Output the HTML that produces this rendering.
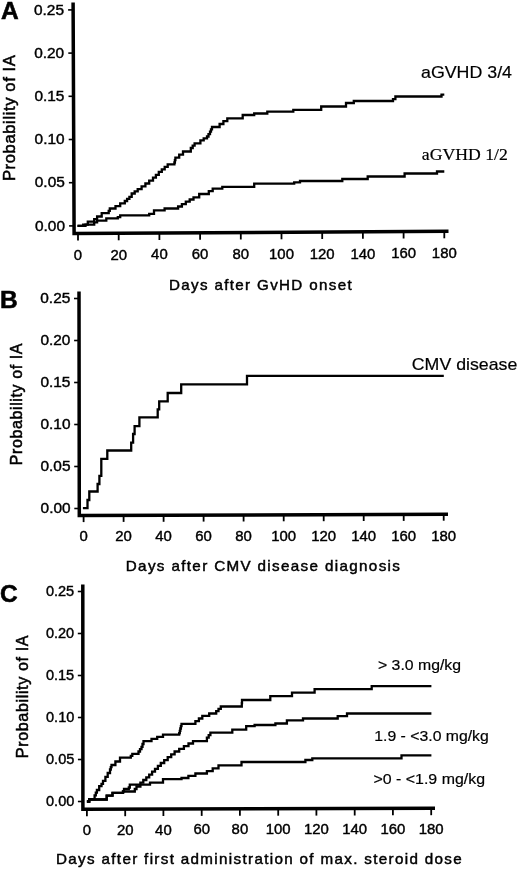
<!DOCTYPE html>
<html><head><meta charset="utf-8"><style>
html,body{margin:0;padding:0;background:#fff;}
body{width:520px;height:870px;overflow:hidden;filter:grayscale(1);font-family:"Liberation Sans", sans-serif;}
svg{display:block;}
</style></head><body>
<svg width="520" height="870" viewBox="0 0 520 870">
<rect width="520" height="870" fill="#fff"/>
<path d="M73.10 2.50 L74.10 233.55 L448.50 231.25" fill="none" stroke="#000" stroke-width="3.50" stroke-linejoin="miter"/>
<line x1="69.1" y1="225.9" x2="74.1" y2="225.9" stroke="#000" stroke-width="1.6"/>
<text x="65.0" y="230.5" font-size="14.0" font-family='"Liberation Sans", sans-serif' font-weight="normal" text-anchor="end" textLength="30.0" lengthAdjust="spacingAndGlyphs" stroke="#000" stroke-width="0.40">0.00</text>
<line x1="68.9" y1="182.7" x2="73.9" y2="182.7" stroke="#000" stroke-width="1.6"/>
<text x="64.8" y="187.3" font-size="14.0" font-family='"Liberation Sans", sans-serif' font-weight="normal" text-anchor="end" textLength="30.0" lengthAdjust="spacingAndGlyphs" stroke="#000" stroke-width="0.40">0.05</text>
<line x1="68.7" y1="139.5" x2="73.7" y2="139.5" stroke="#000" stroke-width="1.6"/>
<text x="64.6" y="144.1" font-size="14.0" font-family='"Liberation Sans", sans-serif' font-weight="normal" text-anchor="end" textLength="30.0" lengthAdjust="spacingAndGlyphs" stroke="#000" stroke-width="0.40">0.10</text>
<line x1="68.5" y1="96.3" x2="73.5" y2="96.3" stroke="#000" stroke-width="1.6"/>
<text x="64.4" y="100.9" font-size="14.0" font-family='"Liberation Sans", sans-serif' font-weight="normal" text-anchor="end" textLength="30.0" lengthAdjust="spacingAndGlyphs" stroke="#000" stroke-width="0.40">0.15</text>
<line x1="68.3" y1="53.1" x2="73.3" y2="53.1" stroke="#000" stroke-width="1.6"/>
<text x="64.2" y="57.7" font-size="14.0" font-family='"Liberation Sans", sans-serif' font-weight="normal" text-anchor="end" textLength="30.0" lengthAdjust="spacingAndGlyphs" stroke="#000" stroke-width="0.40">0.20</text>
<line x1="68.1" y1="9.9" x2="73.1" y2="9.9" stroke="#000" stroke-width="1.6"/>
<text x="64.0" y="14.5" font-size="14.0" font-family='"Liberation Sans", sans-serif' font-weight="normal" text-anchor="end" textLength="30.0" lengthAdjust="spacingAndGlyphs" stroke="#000" stroke-width="0.40">0.25</text>
<line x1="78.0" y1="233.5" x2="78.0" y2="240.5" stroke="#000" stroke-width="1.8"/>
<text x="78.0" y="259.7" font-size="14.0" font-family='"Liberation Sans", sans-serif' font-weight="normal" text-anchor="middle" textLength="8.3" lengthAdjust="spacingAndGlyphs" stroke="#000" stroke-width="0.40">0</text>
<line x1="118.7" y1="233.3" x2="118.7" y2="240.3" stroke="#000" stroke-width="1.8"/>
<text x="118.7" y="259.5" font-size="14.0" font-family='"Liberation Sans", sans-serif' font-weight="normal" text-anchor="middle" textLength="16.6" lengthAdjust="spacingAndGlyphs" stroke="#000" stroke-width="0.40">20</text>
<line x1="159.4" y1="233.0" x2="159.4" y2="240.0" stroke="#000" stroke-width="1.8"/>
<text x="159.4" y="259.4" font-size="14.0" font-family='"Liberation Sans", sans-serif' font-weight="normal" text-anchor="middle" textLength="16.6" lengthAdjust="spacingAndGlyphs" stroke="#000" stroke-width="0.40">40</text>
<line x1="200.1" y1="232.8" x2="200.1" y2="239.8" stroke="#000" stroke-width="1.8"/>
<text x="200.1" y="259.2" font-size="14.0" font-family='"Liberation Sans", sans-serif' font-weight="normal" text-anchor="middle" textLength="16.6" lengthAdjust="spacingAndGlyphs" stroke="#000" stroke-width="0.40">60</text>
<line x1="240.8" y1="232.5" x2="240.8" y2="239.5" stroke="#000" stroke-width="1.8"/>
<text x="240.8" y="259.0" font-size="14.0" font-family='"Liberation Sans", sans-serif' font-weight="normal" text-anchor="middle" textLength="16.6" lengthAdjust="spacingAndGlyphs" stroke="#000" stroke-width="0.40">80</text>
<line x1="281.5" y1="232.3" x2="281.5" y2="239.3" stroke="#000" stroke-width="1.8"/>
<text x="281.5" y="258.9" font-size="14.0" font-family='"Liberation Sans", sans-serif' font-weight="normal" text-anchor="middle" textLength="24.9" lengthAdjust="spacingAndGlyphs" stroke="#000" stroke-width="0.40">100</text>
<line x1="322.2" y1="232.0" x2="322.2" y2="239.0" stroke="#000" stroke-width="1.8"/>
<text x="322.2" y="258.7" font-size="14.0" font-family='"Liberation Sans", sans-serif' font-weight="normal" text-anchor="middle" textLength="24.9" lengthAdjust="spacingAndGlyphs" stroke="#000" stroke-width="0.40">120</text>
<line x1="362.9" y1="231.8" x2="362.9" y2="238.8" stroke="#000" stroke-width="1.8"/>
<text x="362.9" y="258.6" font-size="14.0" font-family='"Liberation Sans", sans-serif' font-weight="normal" text-anchor="middle" textLength="24.9" lengthAdjust="spacingAndGlyphs" stroke="#000" stroke-width="0.40">140</text>
<line x1="403.6" y1="231.5" x2="403.6" y2="238.5" stroke="#000" stroke-width="1.8"/>
<text x="403.6" y="258.4" font-size="14.0" font-family='"Liberation Sans", sans-serif' font-weight="normal" text-anchor="middle" textLength="24.9" lengthAdjust="spacingAndGlyphs" stroke="#000" stroke-width="0.40">160</text>
<line x1="444.3" y1="231.3" x2="444.3" y2="238.3" stroke="#000" stroke-width="1.8"/>
<text x="444.3" y="258.2" font-size="14.0" font-family='"Liberation Sans", sans-serif' font-weight="normal" text-anchor="middle" textLength="24.9" lengthAdjust="spacingAndGlyphs" stroke="#000" stroke-width="0.40">180</text>
<path d="M79.00 291.60 L79.30 515.60 L448.00 514.20" fill="none" stroke="#000" stroke-width="3.50" stroke-linejoin="miter"/>
<line x1="74.3" y1="508.5" x2="79.3" y2="508.5" stroke="#000" stroke-width="1.6"/>
<text x="70.6" y="513.3" font-size="14.0" font-family='"Liberation Sans", sans-serif' font-weight="normal" text-anchor="end" textLength="30.0" lengthAdjust="spacingAndGlyphs" stroke="#000" stroke-width="0.40">0.00</text>
<line x1="74.2" y1="466.5" x2="79.2" y2="466.5" stroke="#000" stroke-width="1.6"/>
<text x="70.5" y="471.3" font-size="14.0" font-family='"Liberation Sans", sans-serif' font-weight="normal" text-anchor="end" textLength="30.0" lengthAdjust="spacingAndGlyphs" stroke="#000" stroke-width="0.40">0.05</text>
<line x1="74.2" y1="424.5" x2="79.2" y2="424.5" stroke="#000" stroke-width="1.6"/>
<text x="70.5" y="429.3" font-size="14.0" font-family='"Liberation Sans", sans-serif' font-weight="normal" text-anchor="end" textLength="30.0" lengthAdjust="spacingAndGlyphs" stroke="#000" stroke-width="0.40">0.10</text>
<line x1="74.1" y1="382.5" x2="79.1" y2="382.5" stroke="#000" stroke-width="1.6"/>
<text x="70.4" y="387.3" font-size="14.0" font-family='"Liberation Sans", sans-serif' font-weight="normal" text-anchor="end" textLength="30.0" lengthAdjust="spacingAndGlyphs" stroke="#000" stroke-width="0.40">0.15</text>
<line x1="74.1" y1="340.5" x2="79.1" y2="340.5" stroke="#000" stroke-width="1.6"/>
<text x="70.4" y="345.3" font-size="14.0" font-family='"Liberation Sans", sans-serif' font-weight="normal" text-anchor="end" textLength="30.0" lengthAdjust="spacingAndGlyphs" stroke="#000" stroke-width="0.40">0.20</text>
<line x1="74.0" y1="298.5" x2="79.0" y2="298.5" stroke="#000" stroke-width="1.6"/>
<text x="70.3" y="303.3" font-size="14.0" font-family='"Liberation Sans", sans-serif' font-weight="normal" text-anchor="end" textLength="30.0" lengthAdjust="spacingAndGlyphs" stroke="#000" stroke-width="0.40">0.25</text>
<line x1="83.6" y1="515.6" x2="83.6" y2="522.1" stroke="#000" stroke-width="1.8"/>
<text x="83.6" y="541.2" font-size="14.0" font-family='"Liberation Sans", sans-serif' font-weight="normal" text-anchor="middle" textLength="8.3" lengthAdjust="spacingAndGlyphs" stroke="#000" stroke-width="0.40">0</text>
<line x1="123.6" y1="515.4" x2="123.6" y2="521.9" stroke="#000" stroke-width="1.8"/>
<text x="123.6" y="541.1" font-size="14.0" font-family='"Liberation Sans", sans-serif' font-weight="normal" text-anchor="middle" textLength="16.6" lengthAdjust="spacingAndGlyphs" stroke="#000" stroke-width="0.40">20</text>
<line x1="163.6" y1="515.3" x2="163.6" y2="521.8" stroke="#000" stroke-width="1.8"/>
<text x="163.6" y="541.0" font-size="14.0" font-family='"Liberation Sans", sans-serif' font-weight="normal" text-anchor="middle" textLength="16.6" lengthAdjust="spacingAndGlyphs" stroke="#000" stroke-width="0.40">40</text>
<line x1="203.6" y1="515.1" x2="203.6" y2="521.6" stroke="#000" stroke-width="1.8"/>
<text x="203.6" y="541.0" font-size="14.0" font-family='"Liberation Sans", sans-serif' font-weight="normal" text-anchor="middle" textLength="16.6" lengthAdjust="spacingAndGlyphs" stroke="#000" stroke-width="0.40">60</text>
<line x1="243.6" y1="515.0" x2="243.6" y2="521.5" stroke="#000" stroke-width="1.8"/>
<text x="243.6" y="540.9" font-size="14.0" font-family='"Liberation Sans", sans-serif' font-weight="normal" text-anchor="middle" textLength="16.6" lengthAdjust="spacingAndGlyphs" stroke="#000" stroke-width="0.40">80</text>
<line x1="283.7" y1="514.8" x2="283.7" y2="521.3" stroke="#000" stroke-width="1.8"/>
<text x="283.7" y="540.8" font-size="14.0" font-family='"Liberation Sans", sans-serif' font-weight="normal" text-anchor="middle" textLength="24.9" lengthAdjust="spacingAndGlyphs" stroke="#000" stroke-width="0.40">100</text>
<line x1="323.7" y1="514.7" x2="323.7" y2="521.2" stroke="#000" stroke-width="1.8"/>
<text x="323.7" y="540.7" font-size="14.0" font-family='"Liberation Sans", sans-serif' font-weight="normal" text-anchor="middle" textLength="24.9" lengthAdjust="spacingAndGlyphs" stroke="#000" stroke-width="0.40">120</text>
<line x1="363.7" y1="514.5" x2="363.7" y2="521.0" stroke="#000" stroke-width="1.8"/>
<text x="363.7" y="540.6" font-size="14.0" font-family='"Liberation Sans", sans-serif' font-weight="normal" text-anchor="middle" textLength="24.9" lengthAdjust="spacingAndGlyphs" stroke="#000" stroke-width="0.40">140</text>
<line x1="403.7" y1="514.4" x2="403.7" y2="520.9" stroke="#000" stroke-width="1.8"/>
<text x="403.7" y="540.6" font-size="14.0" font-family='"Liberation Sans", sans-serif' font-weight="normal" text-anchor="middle" textLength="24.9" lengthAdjust="spacingAndGlyphs" stroke="#000" stroke-width="0.40">160</text>
<line x1="443.7" y1="514.2" x2="443.7" y2="520.7" stroke="#000" stroke-width="1.8"/>
<text x="443.7" y="540.5" font-size="14.0" font-family='"Liberation Sans", sans-serif' font-weight="normal" text-anchor="middle" textLength="24.9" lengthAdjust="spacingAndGlyphs" stroke="#000" stroke-width="0.40">180</text>
<path d="M82.80 584.60 L82.90 809.30 L435.00 808.20" fill="none" stroke="#000" stroke-width="3.50" stroke-linejoin="miter"/>
<line x1="77.9" y1="801.5" x2="82.9" y2="801.5" stroke="#000" stroke-width="1.6"/>
<text x="74.3" y="806.0" font-size="14.0" font-family='"Liberation Sans", sans-serif' font-weight="normal" text-anchor="end" textLength="28.3" lengthAdjust="spacingAndGlyphs" stroke="#000" stroke-width="0.40">0.00</text>
<line x1="77.9" y1="759.5" x2="82.9" y2="759.5" stroke="#000" stroke-width="1.6"/>
<text x="74.3" y="764.0" font-size="14.0" font-family='"Liberation Sans", sans-serif' font-weight="normal" text-anchor="end" textLength="28.3" lengthAdjust="spacingAndGlyphs" stroke="#000" stroke-width="0.40">0.05</text>
<line x1="77.9" y1="717.5" x2="82.9" y2="717.5" stroke="#000" stroke-width="1.6"/>
<text x="74.3" y="722.0" font-size="14.0" font-family='"Liberation Sans", sans-serif' font-weight="normal" text-anchor="end" textLength="28.3" lengthAdjust="spacingAndGlyphs" stroke="#000" stroke-width="0.40">0.10</text>
<line x1="77.8" y1="675.5" x2="82.8" y2="675.5" stroke="#000" stroke-width="1.6"/>
<text x="74.2" y="680.0" font-size="14.0" font-family='"Liberation Sans", sans-serif' font-weight="normal" text-anchor="end" textLength="28.3" lengthAdjust="spacingAndGlyphs" stroke="#000" stroke-width="0.40">0.15</text>
<line x1="77.8" y1="633.5" x2="82.8" y2="633.5" stroke="#000" stroke-width="1.6"/>
<text x="74.2" y="638.0" font-size="14.0" font-family='"Liberation Sans", sans-serif' font-weight="normal" text-anchor="end" textLength="28.3" lengthAdjust="spacingAndGlyphs" stroke="#000" stroke-width="0.40">0.20</text>
<line x1="77.8" y1="591.5" x2="82.8" y2="591.5" stroke="#000" stroke-width="1.6"/>
<text x="74.2" y="596.0" font-size="14.0" font-family='"Liberation Sans", sans-serif' font-weight="normal" text-anchor="end" textLength="28.3" lengthAdjust="spacingAndGlyphs" stroke="#000" stroke-width="0.40">0.25</text>
<line x1="86.9" y1="809.3" x2="86.9" y2="816.3" stroke="#000" stroke-width="1.8"/>
<text x="86.9" y="834.7" font-size="14.0" font-family='"Liberation Sans", sans-serif' font-weight="normal" text-anchor="middle" textLength="8.3" lengthAdjust="spacingAndGlyphs" stroke="#000" stroke-width="0.40">0</text>
<line x1="125.2" y1="809.2" x2="125.2" y2="816.2" stroke="#000" stroke-width="1.8"/>
<text x="125.2" y="834.6" font-size="14.0" font-family='"Liberation Sans", sans-serif' font-weight="normal" text-anchor="middle" textLength="16.6" lengthAdjust="spacingAndGlyphs" stroke="#000" stroke-width="0.40">20</text>
<line x1="163.4" y1="809.0" x2="163.4" y2="816.0" stroke="#000" stroke-width="1.8"/>
<text x="163.4" y="834.5" font-size="14.0" font-family='"Liberation Sans", sans-serif' font-weight="normal" text-anchor="middle" textLength="16.6" lengthAdjust="spacingAndGlyphs" stroke="#000" stroke-width="0.40">40</text>
<line x1="201.7" y1="808.9" x2="201.7" y2="815.9" stroke="#000" stroke-width="1.8"/>
<text x="201.7" y="834.4" font-size="14.0" font-family='"Liberation Sans", sans-serif' font-weight="normal" text-anchor="middle" textLength="16.6" lengthAdjust="spacingAndGlyphs" stroke="#000" stroke-width="0.40">60</text>
<line x1="239.9" y1="808.8" x2="239.9" y2="815.8" stroke="#000" stroke-width="1.8"/>
<text x="239.9" y="834.2" font-size="14.0" font-family='"Liberation Sans", sans-serif' font-weight="normal" text-anchor="middle" textLength="16.6" lengthAdjust="spacingAndGlyphs" stroke="#000" stroke-width="0.40">80</text>
<line x1="278.2" y1="808.7" x2="278.2" y2="815.7" stroke="#000" stroke-width="1.8"/>
<text x="278.2" y="834.1" font-size="14.0" font-family='"Liberation Sans", sans-serif' font-weight="normal" text-anchor="middle" textLength="24.9" lengthAdjust="spacingAndGlyphs" stroke="#000" stroke-width="0.40">100</text>
<line x1="316.4" y1="808.6" x2="316.4" y2="815.6" stroke="#000" stroke-width="1.8"/>
<text x="316.4" y="834.0" font-size="14.0" font-family='"Liberation Sans", sans-serif' font-weight="normal" text-anchor="middle" textLength="24.9" lengthAdjust="spacingAndGlyphs" stroke="#000" stroke-width="0.40">120</text>
<line x1="354.7" y1="808.5" x2="354.7" y2="815.5" stroke="#000" stroke-width="1.8"/>
<text x="354.7" y="833.9" font-size="14.0" font-family='"Liberation Sans", sans-serif' font-weight="normal" text-anchor="middle" textLength="24.9" lengthAdjust="spacingAndGlyphs" stroke="#000" stroke-width="0.40">140</text>
<line x1="392.9" y1="808.3" x2="392.9" y2="815.3" stroke="#000" stroke-width="1.8"/>
<text x="392.9" y="833.8" font-size="14.0" font-family='"Liberation Sans", sans-serif' font-weight="normal" text-anchor="middle" textLength="24.9" lengthAdjust="spacingAndGlyphs" stroke="#000" stroke-width="0.40">160</text>
<line x1="431.2" y1="808.2" x2="431.2" y2="815.2" stroke="#000" stroke-width="1.8"/>
<text x="431.2" y="833.7" font-size="14.0" font-family='"Liberation Sans", sans-serif' font-weight="normal" text-anchor="middle" textLength="24.9" lengthAdjust="spacingAndGlyphs" stroke="#000" stroke-width="0.40">180</text>
<text x="1.0" y="19.2" font-size="24.5" font-family='"Liberation Sans", sans-serif' font-weight="bold" text-anchor="start" stroke="#000" stroke-width="0.55">A</text>
<text x="0.0" y="308.4" font-size="24.5" font-family='"Liberation Sans", sans-serif' font-weight="bold" text-anchor="start" stroke="#000" stroke-width="0.55">B</text>
<text x="0.0" y="601.6" font-size="24.5" font-family='"Liberation Sans", sans-serif' font-weight="bold" text-anchor="start" stroke="#000" stroke-width="0.55">C</text>
<text transform="translate(15.0 181.1) rotate(-90)" font-size="16.5" font-family='"Liberation Sans", sans-serif' stroke="#000" stroke-width="0.50" letter-spacing="0.6" textLength="126.6" lengthAdjust="spacingAndGlyphs">Probability of IA</text>
<text transform="translate(21.8 465.2) rotate(-90)" font-size="16.5" font-family='"Liberation Sans", sans-serif' stroke="#000" stroke-width="0.50" letter-spacing="0.6" textLength="122.3" lengthAdjust="spacingAndGlyphs">Probability of IA</text>
<text transform="translate(27.8 758.2) rotate(-90)" font-size="16.5" font-family='"Liberation Sans", sans-serif' stroke="#000" stroke-width="0.50" letter-spacing="0.6" textLength="123.4" lengthAdjust="spacingAndGlyphs">Probability of IA</text>
<text x="169.0" y="289.6" font-size="14.6" font-family='"Liberation Sans", sans-serif' font-weight="normal" text-anchor="start" textLength="184.0" lengthAdjust="spacingAndGlyphs" stroke="#000" stroke-width="0.45" letter-spacing="1.30">Days after GvHD onset</text>
<text x="125.8" y="570.7" font-size="14.6" font-family='"Liberation Sans", sans-serif' font-weight="normal" text-anchor="start" textLength="275.5" lengthAdjust="spacingAndGlyphs" stroke="#000" stroke-width="0.45" letter-spacing="1.30">Days after CMV disease diagnosis</text>
<text x="56.0" y="864.4" font-size="14.8" font-family='"Liberation Sans", sans-serif' font-weight="normal" text-anchor="start" textLength="407.0" lengthAdjust="spacingAndGlyphs" stroke="#000" stroke-width="0.45" letter-spacing="1.30">Days after first administration of max. steroid dose</text>
<text x="421.0" y="77.9" font-size="17.0" font-family='"Liberation Sans", sans-serif' font-weight="normal" text-anchor="start" textLength="91.0" lengthAdjust="spacingAndGlyphs" stroke="#000" stroke-width="0.20">aGVHD 3/4</text>
<text x="421.8" y="159.8" font-size="17.0" font-family='"Liberation Serif", serif' font-weight="normal" text-anchor="start" textLength="86.0" lengthAdjust="spacingAndGlyphs" stroke="#000" stroke-width="0.20">aGVHD 1/2</text>
<text x="411.8" y="369.7" font-size="17.0" font-family='"Liberation Sans", sans-serif' font-weight="normal" text-anchor="start" textLength="105.5" lengthAdjust="spacingAndGlyphs" stroke="#000" stroke-width="0.20">CMV disease</text>
<text x="378.0" y="670.2" font-size="15.0" font-family='"Liberation Sans", sans-serif' font-weight="normal" text-anchor="start" textLength="83.0" lengthAdjust="spacingAndGlyphs" stroke="#000" stroke-width="0.20">&gt; 3.0 mg/kg</text>
<text x="374.3" y="741.2" font-size="15.0" font-family='"Liberation Sans", sans-serif' font-weight="normal" text-anchor="start" textLength="114.5" lengthAdjust="spacingAndGlyphs" stroke="#000" stroke-width="0.20">1.9 - &lt;3.0 mg/kg</text>
<text x="373.5" y="784.4" font-size="15.0" font-family='"Liberation Sans", sans-serif' font-weight="normal" text-anchor="start" textLength="111.5" lengthAdjust="spacingAndGlyphs" stroke="#000" stroke-width="0.20">&gt;0 - &lt;1.9 mg/kg</text>
<path d="M77.5 225.8 H83.2 V224.6 H87.8 V221.7 H91.3 H94.2 V219.1 H97.1 V216.5 H101.7 V213.1 H107.5 H108.7 V210.8 H109.8 V208.5 H115.5 V206.2 H120.2 V203.3 H124.8 V201.0 H127.1 V198.9 H129.4 V196.9 H131.7 V193.5 H134.7 V191.3 H137.7 V189.2 H141.6 V186.3 H145.4 V183.5 H149.2 V180.6 H153.0 V177.7 H155.9 V174.8 H158.8 V171.9 H161.8 V169.4 H164.7 V166.9 H167.7 V164.4 H174.4 V162.5 H174.9 V160.1 H175.4 V157.7 H179.2 V154.6 H183.0 V151.5 H190.8 V148.0 H192.7 V145.7 H194.6 V143.3 H200.4 V140.4 H203.7 V138.4 H207.0 V136.5 H208.5 V134.1 H210.0 V131.7 H211.0 V129.3 H212.0 V127.0 H219.6 V124.0 H223.4 V121.2 H227.3 V118.3 H240.8 H242.7 V115.0 H254.2 V113.5 H267.3 V111.7 H292.3 H293.3 V109.8 H315.4 H321.2 V106.5 H342.3 H346.0 V103.0 H353.8 V101.0 H393.0 V99.2 H395.4 V96.5 H439.2 H441.5 V94.6 H444.3" fill="none" stroke="#000" stroke-width="2.3"/>
<path d="M77.5 225.8 H85.5 V224.6 H92.5 H94.2 V222.3 H97.1 V220.6 H106.3 V218.3 H117.8 V217.1 H120.2 V215.4 H130.0 H149.2 V213.8 H154.0 V210.4 H164.6 V208.5 H178.1 V206.5 H181.9 V204.1 H185.8 V201.7 H189.7 V199.5 H193.5 V197.3 H199.2 V194.0 H208.8 V191.2 H212.7 V188.7 H222.3 V186.9 H250.4 H254.2 V183.7 H294.2 V182.3 H300.0 V181.0 H313.5 H342.3 V179.0 H346.0 H367.7 V176.5 H404.6 V173.5 H434.6 H437.0 V171.5 H444.3" fill="none" stroke="#000" stroke-width="2.3"/>
<path d="M82.9 508.2 H87.5 V500 H89.3 V491.5 H97.6 V484 H99.4 V475.9 H101.3 V458.9 H107.3 V450.5 H131.2 V442.7 H133.1 V434 H134.6 V426.2 H139.4 V417.3 H157.7 V409.4 H159.2 V401.3 H167.7 V393 H181.2 V384.4 H247 V375.8 H443.8" fill="none" stroke="#000" stroke-width="2.3"/>
<path d="M86.9 801.5 H89.2 V799.2 H94.6 V795.4 H95.8 V792.7 H96.9 V790.0 H99.2 V786.2 H101.5 V783.8 H103.0 V780.8 H105.4 V776.9 H107.7 V773.0 H110.0 V769.5 H110.8 V767.2 H111.5 V765.0 H115.4 V761.5 H120.0 V757.7 H129.2 H130.8 V755.8 H132.3 V753.8 H138.5 V751.5 H140.0 V749.2 H141.5 V746.9 H142.5 V744.0 H143.5 V741.2 H151.5 V738.8 H157.2 V736.8 H163.0 V734.7 H179.2 V733.1 H179.8 V730.8 H180.3 V728.5 H180.9 V726.1 H181.5 V723.8 H195.4 V721.1 H198.9 V718.5 H202.3 V715.8 H209.2 V713.5 H216.2 V711.2 H218.5 V708.9 H220.8 V706.5 H241.5 H241.8 V703.2 H242.0 V700.0 H269.6 H270.3 V696.1 H291.5 H292.0 V692.6 H313.5 H314.6 V689.2 H370.8 H371.7 V686.2 H431.4" fill="none" stroke="#000" stroke-width="2.3"/>
<path d="M86.9 801.5 H89.2 V799.5 H100.0 H106.7 V795.7 H112.5 V792.8 H123.0 V791.5 H133.2 H134.8 V789.0 H136.5 V786.5 H140.4 V782.7 H143.3 V780.0 H146.3 V777.3 H149.2 V774.6 H152.1 V771.7 H155.0 V768.8 H157.9 V765.9 H160.8 V763.0 H164.2 V760.1 H167.7 V757.2 H171.2 V754.4 H174.6 V751.5 H179.2 V748.8 H183.9 V746.2 H188.5 V743.5 H193.0 V741.2 H206.9 V737.7 H208.7 V735.2 H210.4 V732.6 H232.3 V729.6 H246.2 V726.2 H254.6 V725.0 H275.4 V723.5 H286.9 V720.3 H303.0 V718.5 H333.0 H337.7 V716.2 H347.0 V713.5 H416.9 H418.5 H431.4" fill="none" stroke="#000" stroke-width="2.3"/>
<path d="M86.9 801.5 H89.2 V799.5 H100.0 H106.7 V795.7 H112.5 V792.8 H123.0 V791.3 H124.0 V789.0 H128.8 V787.5 H129.8 V784.6 H136.5 H150.0 V782.7 H163.0 V779.2 H181.5 V778.0 H188.4 V775.8 H195.4 V773.5 H206.9 V771.2 H212.7 V768.3 H218.5 V765.4 H239.2 H241.5 V762.0 H304.2 H305.4 V760.0 H312.3 V758.4 H400.0 H401.5 V755.4 H431.4" fill="none" stroke="#000" stroke-width="2.3"/>
</svg>
</body></html>
